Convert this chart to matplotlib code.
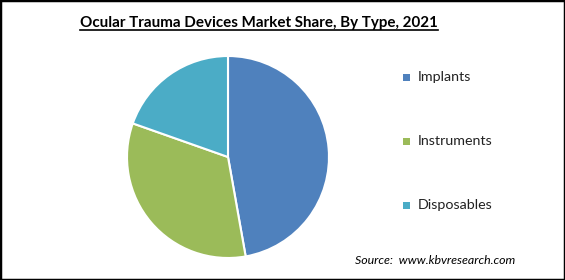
import matplotlib
matplotlib.use('Agg')
import matplotlib.pyplot as plt
from matplotlib.patches import Rectangle
from matplotlib.lines import Line2D

# data
types = ['Implants', 'Instruments', 'Disposables']
shares = [47.2, 33.2, 19.6]
colors = ['#4F81BD', '#9BBB59', '#4BACC6']

W, H = 565, 280
fig = plt.figure(figsize=(W / 100, H / 100), dpi=100)
fig.patch.set_facecolor('white')

# outer frame
fig.add_artist(Rectangle((0, 0), 1, 1, transform=fig.transFigure, fill=False,
                         edgecolor='black', linewidth=2.5))

################################  PIE  ########################################
cx, cy, r = 228, 157, 102
ax = fig.add_axes([(cx - r) / W, (H - cy - r) / H, 2 * r / W, 2 * r / H])
ax.pie(shares, colors=colors, startangle=90, counterclock=False, radius=1,
       wedgeprops=dict(edgecolor='white', linewidth=1.5))
ax.set_xlim(-1.01, 1.01)
ax.set_ylim(-1.01, 1.01)
ax.set_aspect('equal')
ax.axis('off')

###############################  LEGEND  ######################################
for i, label in enumerate(types):
    y = H - (77 + 64 * i)
    fig.add_artist(Rectangle(((406 - 3.5) / W, (y - 3.5) / H), 7 / W, 7 / H,
                             transform=fig.transFigure, facecolor=colors[i],
                             edgecolor='none'))
    fig.text(418 / W, y / H, label, fontsize=10.3, family='Lato',
             va='center', ha='left', color='#222222')

###############################  TITLE  #######################################
title = fig.text(259 / W, (H - 23) / H, 'Ocular Trauma Devices Market Share, By Type, 2021',
                 fontsize=10.9, family='Lato', weight='bold', ha='center', va='center')
fig.canvas.draw()
bb = title.get_window_extent()
fig.add_artist(Line2D([bb.x0 / W, bb.x1 / W], [(bb.y0 - 0.5) / H] * 2,
                      transform=fig.transFigure, color='black', linewidth=1.2))

fig.text(355 / W, (H - 260) / H, 'Source:  www.kbvresearch.com', fontsize=8.9,
         family='Lato', style='italic', ha='left', va='center')

plt.savefig('out.png', dpi=100)
